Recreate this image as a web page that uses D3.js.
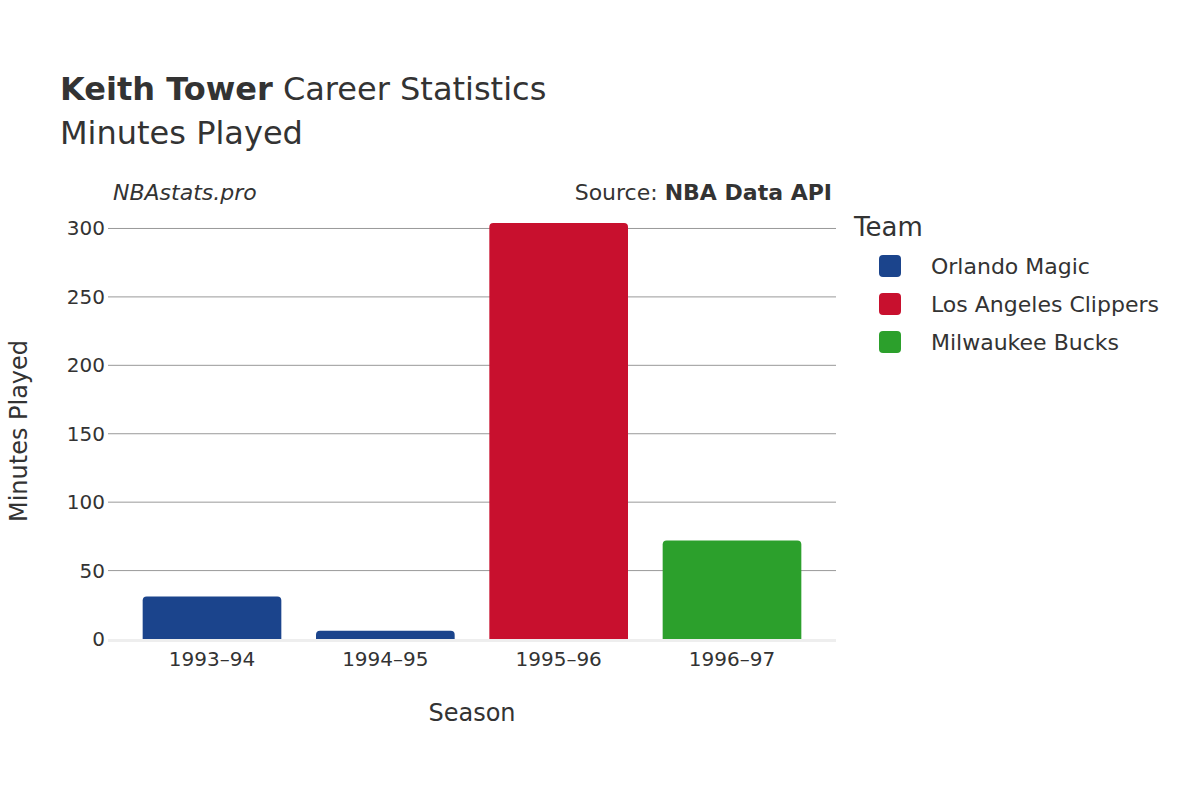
<!DOCTYPE html>
<html><head><meta charset="utf-8">
<script src="https://cdn.jsdelivr.net/npm/d3@7"></script>
<style>body{margin:0;background:#fff}text{font-family:"DejaVu Sans",sans-serif;fill:#333}</style>
</head><body>
<script>
var seasons = ["1993–94","1994–95","1995–96","1996–97"];
var minutes = [31, 6, 304, 72];
var teams = ["Orlando Magic","Orlando Magic","Los Angeles Clippers","Milwaukee Bucks"];
var legendTeams = ["Orlando Magic","Los Angeles Clippers","Milwaukee Bucks"];
var teamColors = ["#1b448c","#c8102e","#2ca02c"];
var yTicks = [0,50,100,150,200,250,300];

var margin = {top: 223, right: 364, bottom: 161, left: 108},
    width = 1200 - margin.left - margin.right,
    height = 800 - margin.top - margin.bottom;

var svg = d3.select("body").append("svg").attr("width",1200).attr("height",800);
var g = svg.append("g").attr("transform","translate("+margin.left+","+margin.top+")");

var x = d3.scaleBand().domain(seasons).range([0,width]).padding(0.2);
var y = d3.scaleLinear().domain([0,304]).range([height,0]);
var color = d3.scaleOrdinal().domain(legendTeams).range(teamColors);

// grid
g.selectAll(".grid").data(yTicks.slice(1)).enter().append("line")
  .attr("x1",0).attr("x2",width).attr("y1",d=>y(d)).attr("y2",d=>y(d))
  .attr("stroke","#999").attr("stroke-width",1);
g.append("line").attr("x1",0).attr("x2",width).attr("y1",y(0)+1.5).attr("y2",y(0)+1.5)
  .attr("stroke","#eee").attr("stroke-width",3);

// bars with rounded tops
var r = 4;
g.selectAll(".bar").data(seasons).enter().append("path")
  .attr("fill",(d,i)=>color(teams[i]))
  .attr("d",function(d,i){
    var x0=x(d), w=x.bandwidth(), y0=y(minutes[i]), y1=y(0);
    var rr=Math.min(r,(y1-y0));
    return "M"+x0+","+y1+"V"+(y0+rr)+"Q"+x0+","+y0+" "+(x0+rr)+","+y0+
      "H"+(x0+w-rr)+"Q"+(x0+w)+","+y0+" "+(x0+w)+","+(y0+rr)+"V"+y1+"Z";
  });

// y axis labels
g.selectAll(".yl").data(yTicks).enter().append("text")
  .attr("x",-3).attr("y",d=>y(d)).attr("dy","0.35em").attr("text-anchor","end")
  .style("font-size","20px").text(d=>d);
// x axis labels
g.selectAll(".xl").data(seasons).enter().append("text")
  .attr("x",d=>x(d)+x.bandwidth()/2).attr("y",height+27).attr("text-anchor","middle")
  .style("font-size","20px").text(d=>d);

svg.append("text").attr("x",margin.left+width/2).attr("y",721).attr("text-anchor","middle")
  .style("font-size","24px").text("Season");
svg.append("text").attr("transform","translate(27,"+(margin.top+height/2)+") rotate(-90)")
  .attr("text-anchor","middle").style("font-size","24px").text("Minutes Played");

// titles
var t = svg.append("text").attr("x",60).attr("y",100).style("font-size","32px");
t.append("tspan").style("font-weight","bold").text("Keith Tower");
t.append("tspan").text(" Career Statistics");
svg.append("text").attr("x",60).attr("y",144).style("font-size","32px").text("Minutes Played");
svg.append("text").attr("x",113).attr("y",200).style("font-size","22px").style("font-style","italic").text("NBAstats.pro");
var s = svg.append("text").attr("x",832).attr("y",200).attr("text-anchor","end").style("font-size","22px");
s.append("tspan").text("Source: ");
s.append("tspan").style("font-weight","bold").text("NBA Data API");

// legend
svg.append("text").attr("x",854).attr("y",236).style("font-size","26px").text("Team");
var lg = svg.selectAll(".lg").data(legendTeams).enter().append("g")
  .attr("transform",(d,i)=>"translate(879,"+(266+i*38)+")");
lg.append("rect").attr("x",0).attr("y",-11).attr("width",22).attr("height",22).attr("rx",4)
  .attr("fill",d=>color(d));
lg.append("text").attr("x",52).attr("dy","0.35em").style("font-size","22px").text(d=>d);
</script>
</body></html>
